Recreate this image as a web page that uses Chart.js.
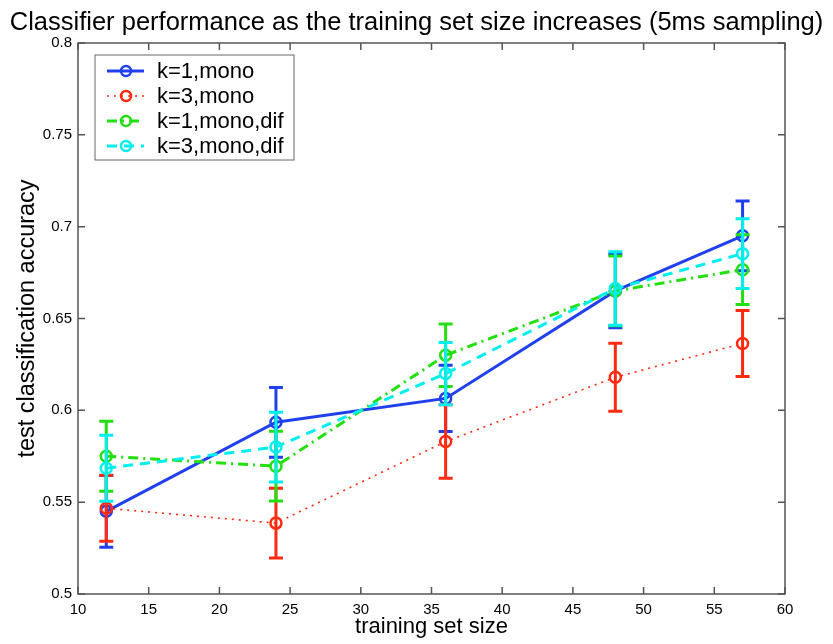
<!DOCTYPE html>
<html>
<head>
<meta charset="utf-8">
<script src="https://cdn.jsdelivr.net/npm/chart.js@4/dist/chart.umd.min.js"></script>
<style>
  html, body { margin: 0; padding: 0; background: #fff; }
  #wrap { width: 833px; height: 644px; }
</style>
</head>
<body>
<div id="wrap"><canvas id="grafico"></canvas></div>
<script>
// datos
const tamanos = [12, 24, 36, 48, 57]
const etiquetas = ['k=1,mono', 'k=3,mono', 'k=1,mono,dif', 'k=3,mono,dif']

const k1mono = [0.545, 0.5935, 0.6065, 0.665, 0.695]
const k3mono = [0.5467, 0.5386, 0.583, 0.618, 0.6364]
const k1dif = [0.575, 0.5696, 0.630, 0.665, 0.6766]
const k3dif = [0.5685, 0.580, 0.620, 0.6663, 0.6853]

const errK1mono = [0.0195, 0.019, 0.018, 0.02, 0.019]
const errK3mono = [0.018, 0.019, 0.020, 0.0185, 0.018]
const errK1dif = [0.019, 0.019, 0.017, 0.019, 0.019]
const errK3dif = [0.018, 0.019, 0.017, 0.020, 0.019]

const colores = ['#2040ee', '#ff2a10', '#22e010', '#00eeee']
const trazos = [[], [2, 5], [10, 5, 2, 5], [10, 7]]
const anchos = [3, 1.6, 3, 3]

const valores = [k1mono, k3mono, k1dif, k3dif]
const errores = [errK1mono, errK3mono, errK1dif, errK3dif]

const fuente = "'Liberation Sans', Arial, Helvetica, sans-serif"

// barras de error de cada serie
const barrasError = {
    id: 'barrasError',
    afterDatasetDraw(chart, args) {
        const ds = chart.data.datasets[args.index]
        const meta = args.meta
        const ys = chart.scales.y
        const ctx = chart.ctx
        ctx.save()
        ctx.strokeStyle = ds.borderColor
        ctx.lineWidth = 3
        ctx.setLineDash([])
        meta.data.forEach((p, i) => {
            const v = ds.data[i].y
            const e = ds.errores[i]
            const y1 = ys.getPixelForValue(v + e)
            const y2 = ys.getPixelForValue(v - e)
            ctx.beginPath()
            ctx.moveTo(p.x, y1); ctx.lineTo(p.x, y2)
            ctx.moveTo(p.x - 7, y1); ctx.lineTo(p.x + 7, y1)
            ctx.moveTo(p.x - 7, y2); ctx.lineTo(p.x + 7, y2)
            ctx.stroke()
        })
        ctx.restore()
    }
}

// marco y marcas hacia adentro (estilo matlab)
const marco = {
    id: 'marco',
    afterDraw(chart) {
        const { ctx, chartArea: a, scales } = chart
        ctx.save()
        ctx.strokeStyle = '#555'
        ctx.lineWidth = 1.5
        ctx.strokeRect(a.left, a.top, a.right - a.left, a.bottom - a.top)
        ctx.beginPath()
        scales.x.ticks.forEach(t => {
            const x = scales.x.getPixelForValue(t.value)
            ctx.moveTo(x, a.bottom); ctx.lineTo(x, a.bottom - 7)
            ctx.moveTo(x, a.top); ctx.lineTo(x, a.top + 7)
        })
        scales.y.ticks.forEach(t => {
            const y = scales.y.getPixelForValue(t.value)
            ctx.moveTo(a.left, y); ctx.lineTo(a.left + 7, y)
            ctx.moveTo(a.right, y); ctx.lineTo(a.right - 7, y)
        })
        ctx.stroke()
        ctx.restore()
    }
}

// leyenda dentro del area del grafico
const leyenda = {
    id: 'leyenda',
    afterDraw(chart) {
        const { ctx, chartArea: a } = chart
        const x0 = a.left + 17, y0 = a.top + 12
        const w = 199, h = 105
        ctx.save()
        ctx.fillStyle = '#fff'
        ctx.fillRect(x0, y0, w, h)
        ctx.strokeStyle = '#666'
        ctx.lineWidth = 1
        ctx.strokeRect(x0, y0, w, h)
        ctx.font = '22px ' + fuente
        ctx.textBaseline = 'middle'
        chart.data.datasets.forEach((ds, i) => {
            const y = y0 + 16 + i * 25
            ctx.strokeStyle = ds.borderColor
            ctx.lineWidth = ds.borderWidth
            ctx.setLineDash(ds.borderDash)
            ctx.beginPath()
            ctx.moveTo(x0 + 12, y); ctx.lineTo(x0 + 49, y)
            ctx.stroke()
            ctx.setLineDash([])
            ctx.lineWidth = 2.5
            ctx.beginPath()
            ctx.arc(x0 + 31, y, 5, 0, Math.PI * 2)
            ctx.stroke()
            ctx.fillStyle = '#000'
            ctx.fillText(ds.label, x0 + 62, y + 1)
        })
        ctx.restore()
    }
}

const series = valores.map((vals, i) => ({
    label: etiquetas[i],
    data: tamanos.map((x, j) => ({ x: x, y: vals[j] })),
    errores: errores[i],
    borderColor: colores[i],
    borderWidth: anchos[i],
    borderDash: trazos[i],
    pointStyle: 'circle',
    pointRadius: 5.5,
    pointBorderWidth: 2.5,
    pointBackgroundColor: 'rgba(0,0,0,0)',
    pointBorderColor: colores[i],
    tension: 0,
    order: 3 - i
}))

new Chart(document.getElementById('grafico'), {
    type: 'line',
    data: { datasets: series },
    options: {
        responsive: true,
        maintainAspectRatio: false,
        animation: false,
        layout: { padding: { top: 3, right: 0, left: 0, bottom: 0 } },
        plugins: {
            legend: { display: false },
            tooltip: { enabled: false },
            title: {
                display: true,
                text: 'Classifier performance as the training set size increases (5ms sampling)',
                color: '#000',
                font: { family: fuente, size: 25.5, weight: 'normal', lineHeight: 1.2 },
                padding: { top: 5, bottom: 4.4 }
            }
        },
        scales: {
            x: {
                type: 'linear',
                min: 10, max: 60,
                grid: { display: false, drawTicks: false },
                border: { display: false },
                ticks: { stepSize: 5, color: '#000', padding: 7, font: { family: fuente, size: 15 } },
                title: { display: true, text: 'training set size', color: '#000',
                    font: { family: fuente, size: 22 }, padding: { top: 4 } },
                afterFit(s) { s.height = 50 }
            },
            y: {
                min: 0.5, max: 0.8,
                grid: { display: false, drawTicks: false },
                border: { display: false },
                ticks: { stepSize: 0.05, color: '#000', padding: 6, font: { family: fuente, size: 15 },
                    callback: v => String(Math.round(v * 100) / 100) },
                title: { display: true, text: 'test classification accuracy', color: '#000',
                    font: { family: fuente, size: 23.5 }, padding: { top: 13 } },
                afterFit(s) { s.width = 78 }
            },
            // margen derecho vacio
            derecha: {
                position: 'right',
                min: 0, max: 1,
                grid: { display: false, drawTicks: false },
                border: { display: false },
                ticks: { display: false },
                afterFit(s) { s.width = 48 }
            }
        }
    },
    plugins: [barrasError, marco, leyenda]
})
</script>
</body>
</html>
